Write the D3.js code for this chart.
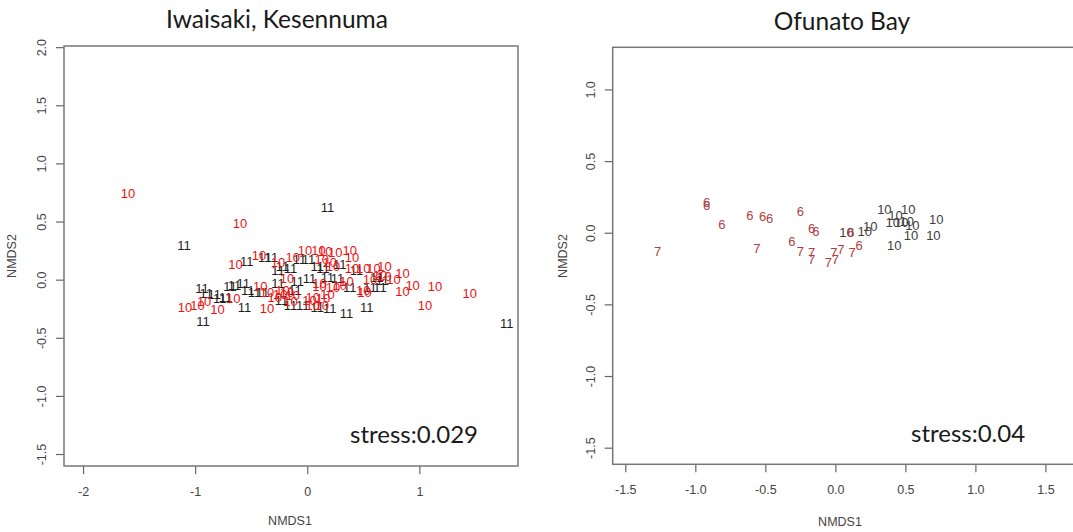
<!DOCTYPE html>
<html>
<head>
<meta charset="utf-8">
<script src="https://cdn.jsdelivr.net/npm/d3@7/dist/d3.min.js"></script>
<style>
  html, body { margin: 0; padding: 0; background: #fff; }
  svg { display: block; }
</style>
</head>
<body>
<svg id="chart" width="1073" height="532"></svg>
<script>
// ---------- Data: Iwaisaki, Kesennuma ----------
const leftTitle = "Iwaisaki, Kesennuma";
const leftStress = "stress:0.029";
const leftXTicks = [-2, -1, 0, 1];
const leftXTickLabels = ["-2", "-1", "0", "1"];
const leftYTicks = [-1.5, -1.0, -0.5, 0.0, 0.5, 1.0, 1.5, 2.0];
const leftYTickLabels = ["-1.5", "-1.0", "-0.5", "0.0", "0.5", "1.0", "1.5", "2.0"];

// group "10" (red)  [NMDS1, NMDS2]
const left10 = [
  [-1.60, 0.74], [-0.60, 0.48], [-0.64, 0.13], [-0.43, 0.21], [-0.26, 0.15],
  [-0.13, 0.19], [-0.02, 0.25], [0.10, 0.25], [0.16, 0.24], [0.25, 0.23],
  [0.38, 0.25], [0.13, 0.17], [0.20, 0.15], [0.40, 0.19], [0.23, 0.11],
  [0.40, 0.10], [0.50, 0.10], [0.59, 0.10], [0.69, 0.11], [0.85, 0.05],
  [0.77, 0.00], [0.69, 0.03], [0.94, -0.05], [0.85, -0.10], [1.14, -0.06],
  [1.45, -0.12], [1.05, -0.22], [0.51, -0.11], [-0.18, 0.01], [0.11, -0.03],
  [0.35, -0.02], [0.56, 0.00], [0.65, 0.04], [0.11, -0.06], [0.23, -0.07],
  [0.29, -0.05], [0.50, -0.09], [-0.18, -0.11], [-0.13, -0.14], [0.05, -0.15],
  [0.14, -0.16], [0.18, -0.13], [-0.15, -0.19], [0.05, -0.22], [0.13, -0.22],
  [-0.42, -0.06], [-0.36, -0.11], [-0.29, -0.15], [-0.22, -0.09], [-0.66, -0.16],
  [-1.09, -0.24], [-0.98, -0.22], [-0.92, -0.19], [-0.80, -0.26], [-0.36, -0.25],
  [-0.24, -0.13], [0.02, -0.18]
];
// group "11" (black)
const left11 = [
  [0.18, 0.62], [-1.10, 0.29], [1.78, -0.38], [-0.93, -0.36], [-0.56, -0.24],
  [-0.54, 0.16], [-0.38, 0.19], [-0.32, 0.19], [-0.26, 0.08], [-0.07, 0.17],
  [0.01, 0.17], [-0.22, 0.11], [-0.15, 0.10], [0.09, 0.11], [0.14, 0.10],
  [0.44, 0.08], [-0.09, -0.02], [0.02, 0.01], [0.18, 0.02], [0.27, 0.01],
  [0.62, 0.02], [0.67, -0.01], [-0.11, -0.09], [0.38, -0.07], [0.56, -0.07],
  [0.65, -0.07], [-0.15, -0.22], [-0.04, -0.22], [0.09, -0.24], [0.20, -0.25],
  [0.35, -0.29], [0.53, -0.24], [-0.94, -0.08], [-0.90, -0.12], [-0.83, -0.13],
  [-0.78, -0.16], [-0.69, -0.06], [-0.65, -0.05], [-0.57, -0.03], [-0.53, -0.09],
  [-0.47, -0.11], [-0.40, -0.11], [-0.73, -0.15], [-0.26, -0.03], [0.29, 0.13],
  [-0.23, -0.18]
];

// ---------- Data: Ofunato Bay ----------
const rightTitle = "Ofunato Bay";
const rightStress = "stress:0.04";
const rightXTicks = [-1.5, -1.0, -0.5, 0.0, 0.5, 1.0, 1.5];
const rightXTickLabels = ["-1.5", "-1.0", "-0.5", "0.0", "0.5", "1.0", "1.5"];
const rightYTicks = [-1.5, -1.0, -0.5, 0.0, 0.5, 1.0];
const rightYTickLabels = ["-1.5", "-1.0", "-0.5", "0.0", "0.5", "1.0"];

const right6 = [
  [-0.92, 0.21], [-0.92, 0.19], [-0.81, 0.06], [-0.61, 0.12], [-0.52, 0.11],
  [-0.47, 0.10], [-0.25, 0.15], [-0.17, 0.03], [-0.14, 0.01], [-0.31, -0.06],
  [0.11, 0.00], [0.17, -0.09]
];
const right7 = [
  [-1.27, -0.13], [-0.56, -0.11], [-0.25, -0.13], [-0.17, -0.14], [-0.17, -0.19],
  [-0.01, -0.14], [0.00, -0.19], [0.04, -0.12], [-0.05, -0.21], [0.12, -0.14]
];
const right10 = [
  [0.08, 0.00], [0.21, 0.01], [0.25, 0.04], [0.35, 0.16], [0.43, 0.12],
  [0.52, 0.16], [0.51, 0.08], [0.41, 0.07], [0.47, 0.07], [0.55, 0.05],
  [0.54, -0.02], [0.70, -0.02], [0.72, 0.09], [0.42, -0.09]
];

// ---------- Drawing ----------
const svg = d3.select("#chart");
const tickFont = "'Liberation Sans', Arial, sans-serif";
const titleFont = "Lato, 'Open Sans', sans-serif";

function panel(cfg) {
  const x = d3.scaleLinear().domain(cfg.xDomain).range([cfg.left, cfg.right]);
  const y = d3.scaleLinear().domain(cfg.yDomain).range([cfg.bottom, cfg.top]);
  const g = svg.append("g");

  // x axis ticks
  const xa = g.append("g")
    .attr("transform", `translate(0,${cfg.bottom})`)
    .call(d3.axisBottom(x).tickValues(cfg.xTicks)
      .tickFormat((d, i) => cfg.xTickLabels[i]).tickSize(8).tickPadding(13));
  xa.select(".domain").remove();
  xa.selectAll("line").attr("stroke", "#666").attr("stroke-width", 1.2);
  xa.selectAll("text").attr("fill", "#444").style("font-family", tickFont).style("font-size", "12.5px");

  // y axis ticks
  const ya = g.append("g")
    .attr("transform", `translate(${cfg.left},0)`)
    .call(d3.axisLeft(y).tickValues(cfg.yTicks)
      .tickFormat((d, i) => cfg.yTickLabels[i]).tickSize(8));
  ya.select(".domain").remove();
  ya.selectAll("line").attr("stroke", "#666").attr("stroke-width", 1.2);
  ya.selectAll("text")
    .attr("transform", "rotate(-90)")
    .attr("x", 0).attr("y", -22).attr("dy", "0.35em")
    .style("text-anchor", "middle")
    .attr("fill", "#444").style("font-family", tickFont).style("font-size", "12.5px");

  // box
  g.append("rect")
    .attr("x", cfg.left).attr("y", cfg.top)
    .attr("width", cfg.right - cfg.left).attr("height", cfg.bottom - cfg.top)
    .attr("fill", "none").attr("stroke", "#777").attr("stroke-width", 1.5);

  // axis titles
  g.append("text").attr("x", cfg.xLabelX).attr("y", cfg.xLabelY)
    .attr("text-anchor", "middle").attr("dominant-baseline", "central")
    .attr("fill", "#444").style("font-family", tickFont).style("font-size", "12.5px")
    .text("NMDS1");
  g.append("text")
    .attr("transform", `translate(${cfg.yLabelX},${cfg.yLabelY}) rotate(-90)`)
    .attr("text-anchor", "middle").attr("dominant-baseline", "central")
    .attr("fill", "#444").style("font-family", tickFont).style("font-size", "12.5px")
    .text("NMDS2");

  // title
  g.append("text").attr("x", cfg.titleX).attr("y", cfg.titleY)
    .attr("text-anchor", "middle").attr("fill", "#1a1a1a")
    .style("font-family", titleFont).style("font-size", "24.5px")
    .text(cfg.title);

  // stress
  g.append("text").attr("x", cfg.stressX).attr("y", cfg.stressY)
    .attr("text-anchor", "start").attr("fill", "#1a1a1a")
    .style("font-family", titleFont).style("font-size", "24px")
    .text(cfg.stress);

  // points as text labels
  cfg.groups.forEach(grp => {
    g.append("g").selectAll("text").data(grp.data).join("text")
      .attr("x", d => x(d[0])).attr("y", d => y(d[1]))
      .attr("text-anchor", "middle").attr("dominant-baseline", "central")
      .attr("fill", grp.color)
      .style("font-family", tickFont).style("font-size", "13px")
      .text(grp.label);
  });
}

panel({
  left: 64, right: 518, top: 46, bottom: 466,
  xDomain: [-2.17, 1.88], yDomain: [-1.603, 2.01],
  xTicks: leftXTicks, xTickLabels: leftXTickLabels,
  yTicks: leftYTicks, yTickLabels: leftYTickLabels,
  xLabelX: 290, xLabelY: 521, yLabelX: 12, yLabelY: 256,
  title: leftTitle, titleX: 277, titleY: 28,
  stress: leftStress, stressX: 350, stressY: 443,
  groups: [
    { label: "11", color: "#1e1e1e", data: left11 },
    { label: "10", color: "#ee1111", data: left10 }
  ]
});

panel({
  left: 612.7, right: 1075, top: 47.3, bottom: 464.3,
  xDomain: [-1.59, 1.7114], yDomain: [-1.616, 1.294],
  xTicks: rightXTicks, xTickLabels: rightXTickLabels,
  yTicks: rightYTicks, yTickLabels: rightYTickLabels,
  xLabelX: 840, xLabelY: 522, yLabelX: 563, yLabelY: 256,
  title: rightTitle, titleX: 842, titleY: 30,
  stress: rightStress, stressX: 911, stressY: 442,
  groups: [
    { label: "10", color: "#404040", data: right10 },
    { label: "6", color: "#b04040", data: right6 },
    { label: "7", color: "#b04040", data: right7 }
  ]
});
</script>
</body>
</html>
